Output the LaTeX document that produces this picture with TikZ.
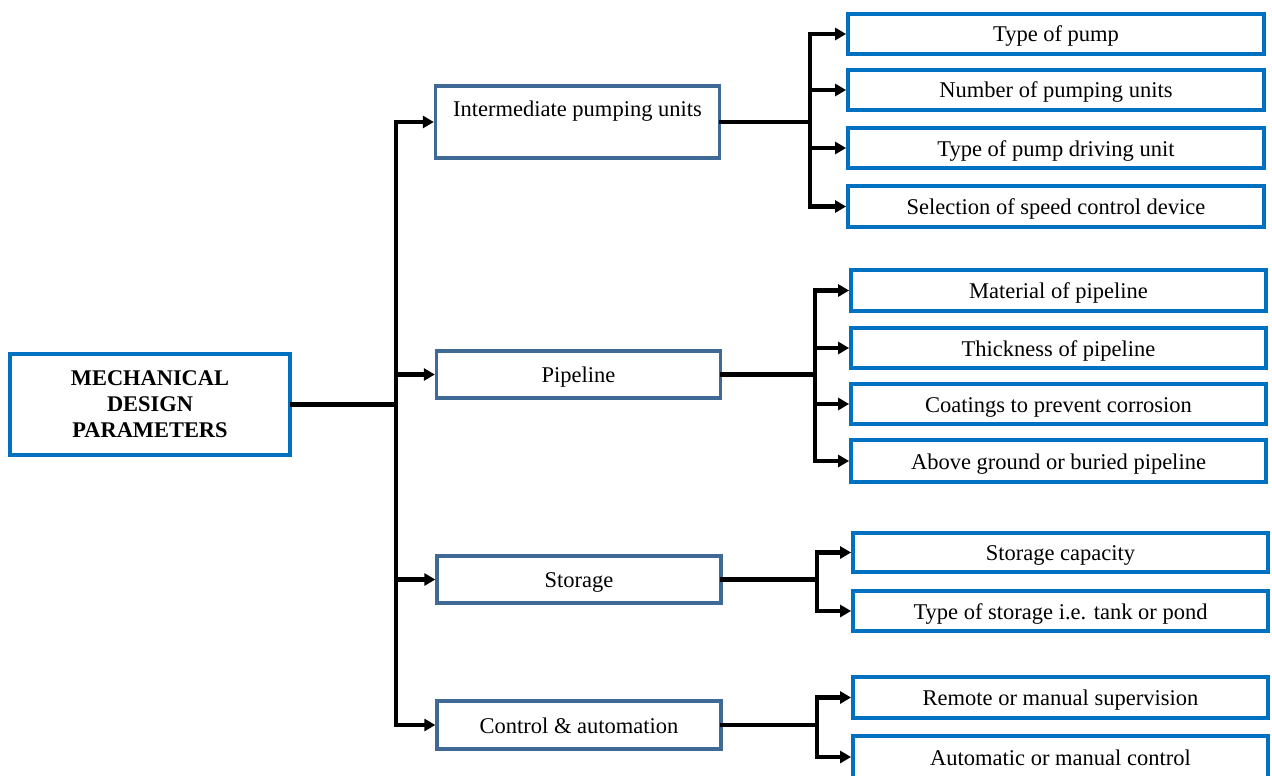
\documentclass[tikz,border=0pt]{standalone}
\usepackage{fontspec}
\setmainfont{Liberation Serif}
\usetikzlibrary{arrows.meta}
\definecolor{leafblue}{RGB}{0,112,192}
\definecolor{midblue}{RGB}{65,105,150}
\begin{document}
\begin{tikzpicture}[x=1pt,y=-1pt,
  every node/.style={inner sep=0pt, font=\fontsize{22.5}{26}\selectfont},
  rootbox/.style={draw=leafblue, line width=3.8pt, fill=white, align=center,
    minimum width=280pt, minimum height=101pt, font=\fontsize{22.4}{26}\selectfont\bfseries},
  midbox/.style={draw=midblue, line width=3.3pt, fill=white, minimum width=284pt, minimum height=47pt,
    text height=19pt, text depth=3pt},
  leafbox/.style={draw=leafblue, line width=3.8pt, fill=white, minimum width=415pt, minimum height=40pt,
    text height=19pt, text depth=3pt},
  wire/.style={line width=4.4pt, line cap=rect, line join=miter},
  feed/.style={line width=4.4pt, -{Triangle[length=11pt,width=12pt]}},
]
\useasboundingbox (0,0) rectangle (1272,776);
\clip (0,0) rectangle (1272,776);

% root
\node[rootbox] (root) at (150,404.5) {MECHANICAL\\DESIGN\\PARAMETERS};

% second level
\node[midbox, minimum height=72pt, text height=16pt, text depth=27pt] (pump) at (577.5,122) {Intermediate pumping units};
\node[midbox] (pipe) at (578.5,374.5) {Pipeline};
\node[midbox] (store) at (579,579.5) {Storage};
\node[midbox, minimum height=48pt] (ctrl) at (579,725) {Control \& automation};

% third level
\node[leafbox, minimum width=416pt] (p1) at (1056,34) {Type of pump};
\node[leafbox, minimum width=416pt] (p2) at (1056,90) {Number of pumping units};
\node[leafbox, minimum width=416pt] (p3) at (1056,148) {Type of pump driving unit};
\node[leafbox, minimum width=416pt, minimum height=41pt] (p4) at (1056,206.5) {Selection of speed control device};

\node[leafbox, minimum height=41pt] (l1) at (1058.5,290.5) {Material of pipeline};
\node[leafbox] (l2) at (1058.5,348) {Thickness of pipeline};
\node[leafbox] (l3) at (1058.5,404) {Coatings to prevent corrosion};
\node[leafbox, minimum height=42pt] (l4) at (1058.5,461) {Above ground or buried pipeline};

\node[leafbox, minimum height=39pt] (s1) at (1060.5,552.5) {Storage capacity};
\node[leafbox] (s2) at (1060.5,611) {Type of storage i.e. tank or pond};

\node[leafbox, minimum height=41pt] (c1) at (1060.5,697.5) {Remote or manual supervision};
\node[leafbox, minimum height=42pt] (c2) at (1060.5,757) {Automatic or manual control};

% trunk and branch lines
\coordinate (trunk) at (396,0);
\coordinate (gp) at (810,0);
\coordinate (gl) at (815,0);
\coordinate (gs) at (817,0);
\coordinate (gc) at (817,0);

\draw[wire] (root.east) -- (root.east -| trunk);
\draw[wire] (trunk |- pump.west) -- (trunk |- ctrl.west);
\foreach \n in {pump,pipe,store,ctrl}
  \draw[feed] (trunk |- \n.west) -- (\n.west);

\draw[wire] (pump.east) -- (pump.east -| gp);
\draw[wire] (gp |- p1.west) -- (gp |- p4.west);
\foreach \n in {p1,p2,p3,p4}
  \draw[feed] (gp |- \n.west) -- (\n.west);

\draw[wire] (pipe.east) -- (pipe.east -| gl);
\draw[wire] (gl |- l1.west) -- (gl |- l4.west);
\foreach \n in {l1,l2,l3,l4}
  \draw[feed] (gl |- \n.west) -- (\n.west);

\draw[wire] (store.east) -- (store.east -| gs);
\draw[wire] (gs |- s1.west) -- (gs |- s2.west);
\foreach \n in {s1,s2}
  \draw[feed] (gs |- \n.west) -- (\n.west);

\draw[wire] (ctrl.east) -- (ctrl.east -| gc);
\draw[wire] (gc |- c1.west) -- (gc |- c2.west);
\foreach \n in {c1,c2}
  \draw[feed] (gc |- \n.west) -- (\n.west);
\end{tikzpicture}
\end{document}
